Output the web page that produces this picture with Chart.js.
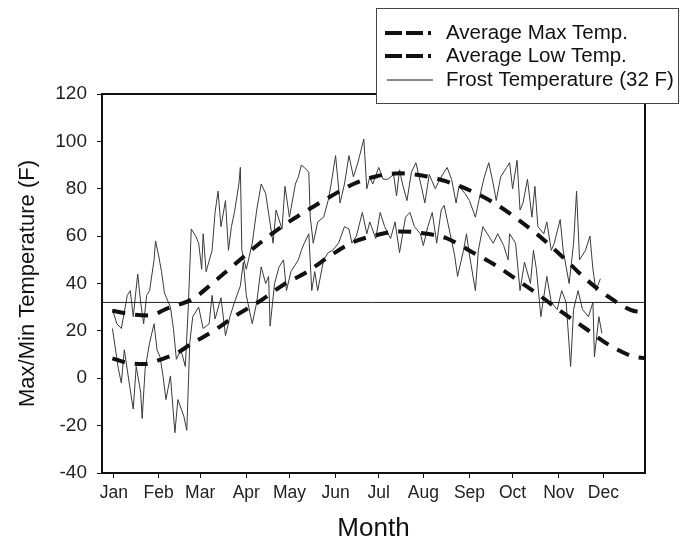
<!DOCTYPE html>
<html>
<head>
<meta charset="utf-8">
<script src="https://cdn.jsdelivr.net/npm/chart.js@4.4.1/dist/chart.umd.min.js"></script>
<style>
  html, body { margin: 0; padding: 0; background: #fff; }
  #wrap { width: 681px; height: 552px; }
</style>
</head>
<body>
<div id="wrap"><canvas id="tempChart" width="681" height="552"></canvas></div>
<script>
// Month ticks (x in the same day units as the data below)
const monthLabels = ['Jan', 'Feb', 'Mar', 'Apr', 'May', 'Jun', 'Jul', 'Aug', 'Sep', 'Oct', 'Nov', 'Dec'];
const monthTickDays = [8, 38, 66, 97, 126, 157, 186, 216, 247, 276, 307, 337];

const yTicks = [-40, -20, 0, 20, 40, 60, 80, 100, 120];
const frostTemp = 32;

// Smoothed averages
const avgMaxDays = [7, 20, 32, 44, 61, 75, 90, 106, 122, 137, 153, 169, 184, 200, 216, 231, 250, 264, 278, 294, 310, 325, 341, 357, 365];
const avgMaxTemps = [28.5, 27, 26.5, 29.5, 33.5, 40.5, 48.5, 57, 64.5, 70.5, 76.5, 82, 85.2, 86.5, 85.5, 83.2, 78.5, 73.8, 67.8, 60, 51, 42, 34.2, 28.5, 28];

const avgLowDays = [7, 17, 28, 40, 50, 60, 75, 90, 106, 122, 138, 154, 169, 185, 200, 216, 232, 248, 265, 279, 294, 309, 325, 341, 357, 365];
const avgLowTemps = [8.4, 6.5, 6, 8, 10.5, 14.5, 20, 26.5, 32.5, 39.5, 45, 52, 57.5, 60.5, 62, 61.2, 59, 53.5, 47.5, 41.5, 35, 28, 21, 14, 9.2, 8.4];

const dailyHighDays = [7, 10, 13, 17, 19, 21, 24, 26, 28, 30, 32, 35, 36, 38, 40, 42, 46, 48, 50, 53, 56, 58, 60, 63, 65, 67, 68, 70, 74, 76, 78, 80, 83, 85, 87, 89, 92, 93, 94, 97, 101, 104, 107, 110, 115, 117, 121, 123, 126, 130, 132, 134, 136, 139, 140, 142, 145, 149, 152, 154, 157, 160, 163, 166, 169, 172, 176, 178, 180, 182, 186, 189, 192, 196, 198, 200, 202, 205, 208, 211, 215, 217, 220, 224, 227, 232, 235, 238, 240, 244, 247, 251, 254, 257, 260, 263, 265, 268, 272, 274, 276, 279, 281, 283, 286, 289, 291, 293, 297, 299, 302, 304, 308, 310, 312, 314, 317, 319, 321, 325, 328, 330, 332, 335];
const dailyHighTemps = [29, 23, 21, 35, 37, 26, 44, 32, 23, 35, 37, 50, 58, 52, 45, 36, 30, 21, 8, 12, 5, 30, 63, 60, 57, 46, 61, 45, 54, 70, 79, 64, 75, 54, 64, 70, 82, 89, 54, 46, 57, 71, 82, 78, 57, 71, 63, 81, 68, 82, 85, 90, 89, 87, 68, 57, 66, 68, 75, 82, 94, 74, 82, 94, 85, 91, 101, 80, 85, 82, 89, 84, 84, 86, 77, 88, 82, 75, 87, 91, 80, 74, 86, 80, 84, 89, 84, 74, 81, 78, 75, 68, 77, 85, 91, 82, 75, 85, 89, 91, 80, 92, 71, 74, 84, 68, 81, 64, 61, 66, 54, 57, 67, 54, 47, 40, 57, 79, 50, 54, 60, 46, 37, 42];

const dailyLowDays = [7, 11, 13, 15, 19, 21, 23, 26, 27, 29, 32, 35, 37, 39, 41, 43, 46, 49, 51, 55, 57, 59, 61, 65, 68, 72, 74, 76, 80, 83, 86, 89, 93, 95, 97, 101, 104, 107, 110, 112, 113, 116, 119, 122, 124, 127, 132, 134, 136, 139, 141, 143, 145, 149, 152, 155, 159, 163, 166, 168, 171, 175, 178, 180, 184, 187, 190, 194, 197, 200, 204, 207, 210, 214, 216, 219, 222, 225, 228, 230, 234, 237, 239, 243, 245, 247, 251, 253, 256, 260, 263, 266, 270, 273, 274, 278, 281, 284, 288, 290, 292, 295, 299, 302, 306, 309, 312, 315, 317, 320, 323, 327, 330, 331, 334, 336];
const dailyLowTemps = [21, 4, -2, 12, -5, -13, 5, -6, -17, 4, 15, 23, 12, 9, 1, -9, 1, -23, -9, -16, -22, 15, 26, 30, 21, 23, 35, 25, 34, 18, 26, 32, 39, 49, 35, 23, 32, 47, 40, 43, 22, 40, 47, 50, 37, 45, 50, 54, 57, 61, 37, 45, 37, 50, 53, 54, 57, 64, 63, 57, 60, 70, 61, 66, 59, 70, 64, 59, 66, 53, 68, 70, 64, 61, 56, 64, 70, 57, 71, 73, 61, 52, 43, 54, 61, 52, 37, 54, 64, 60, 57, 61, 56, 50, 61, 57, 37, 49, 40, 54, 46, 26, 43, 32, 29, 37, 32, 5, 29, 37, 29, 26, 32, 9, 26, 19];

const FONT = '"Liberation Sans", Arial, sans-serif';

function toPoints(xs, ys) {
    return xs.map((x, i) => ({ x: x, y: ys[i] }));
}

// Frame around the plot area plus the boxed legend in the top right
const framePlugin = {
    id: 'frame',
    afterDraw(chart) {
        const { ctx, chartArea } = chart;
        ctx.save();
        ctx.strokeStyle = '#111';
        ctx.lineWidth = 2;
        ctx.strokeRect(chartArea.left, chartArea.top, chartArea.right - chartArea.left, chartArea.bottom - chartArea.top);

        // legend box
        ctx.fillStyle = '#fff';
        ctx.fillRect(376, 8, 302, 95);
        ctx.strokeStyle = '#444';
        ctx.lineWidth = 1;
        ctx.strokeRect(376.5, 8.5, 302, 95);

        const rows = [
            { label: 'Average Max Temp.', y: 33, dashed: true },
            { label: 'Average Low Temp.', y: 56, dashed: true },
            { label: 'Frost Temperature (32 F)', y: 80, dashed: false }
        ];
        rows.forEach(row => {
            ctx.beginPath();
            if (row.dashed) {
                ctx.lineWidth = 4;
                ctx.setLineDash([17, 4, 17, 5, 3, 60]);
                ctx.moveTo(385, row.y);
                ctx.lineTo(437, row.y);
            } else {
                ctx.lineWidth = 1;
                ctx.setLineDash([]);
                ctx.moveTo(387, row.y);
                ctx.lineTo(433, row.y);
            }
            ctx.strokeStyle = '#111';
            ctx.stroke();
            ctx.setLineDash([]);
            ctx.fillStyle = '#111';
            ctx.font = '20.5px ' + FONT;
            ctx.textBaseline = 'middle';
            ctx.fillText(row.label, 446, row.y);
        });
        ctx.restore();
    }
};

const ctx = document.getElementById('tempChart').getContext('2d');

new Chart(ctx, {
    type: 'line',
    data: {
        datasets: [
            {
                label: 'Average Max Temp.',
                data: toPoints(avgMaxDays, avgMaxTemps),
                borderColor: '#111',
                borderWidth: 4,
                borderDash: [13, 10],
                cubicInterpolationMode: 'monotone',
                pointRadius: 0,
                fill: false
            },
            {
                label: 'Average Low Temp.',
                data: toPoints(avgLowDays, avgLowTemps),
                borderColor: '#111',
                borderWidth: 4,
                borderDash: [13, 10],
                cubicInterpolationMode: 'monotone',
                pointRadius: 0,
                fill: false
            },
            {
                label: 'Frost Temperature (32 F)',
                data: [{ x: 0, y: frostTemp }, { x: 365, y: frostTemp }],
                borderColor: '#222',
                borderWidth: 1,
                pointRadius: 0,
                fill: false
            },
            {
                label: 'Daily High',
                data: toPoints(dailyHighDays, dailyHighTemps),
                borderColor: '#3a3a3a',
                borderWidth: 1,
                tension: 0,
                pointRadius: 0,
                fill: false
            },
            {
                label: 'Daily Low',
                data: toPoints(dailyLowDays, dailyLowTemps),
                borderColor: '#3a3a3a',
                borderWidth: 1,
                tension: 0,
                pointRadius: 0,
                fill: false
            }
        ]
    },
    options: {
        responsive: false,
        animation: false,
        layout: {
            padding: { left: 0, right: 36, top: 94, bottom: 0 }
        },
        plugins: {
            legend: { display: false },
            tooltip: { enabled: false }
        },
        scales: {
            x: {
                type: 'linear',
                min: 0,
                max: 365,
                afterBuildTicks: scale => {
                    scale.ticks = monthTickDays.map(v => ({ value: v }));
                },
                afterFit: scale => {
                    scale.height = 79;
                },
                grid: {
                    drawOnChartArea: false,
                    drawTicks: true,
                    tickLength: 5,
                    tickColor: '#111'
                },
                border: { color: '#111', width: 2 },
                ticks: {
                    autoSkip: false,
                    maxRotation: 0,
                    padding: 5,
                    color: '#222',
                    font: { family: FONT, size: 17.5 },
                    callback: (value, index) => monthLabels[index]
                },
                title: {
                    display: true,
                    text: 'Month',
                    color: '#111',
                    font: { family: FONT, size: 26 },
                    padding: { top: 0, bottom: 8 }
                }
            },
            y: {
                min: -40,
                max: 120,
                afterBuildTicks: scale => {
                    scale.ticks = yTicks.map(v => ({ value: v }));
                },
                afterFit: scale => {
                    scale.width = 102;
                },
                grid: {
                    drawOnChartArea: false,
                    drawTicks: true,
                    tickLength: 5,
                    tickColor: '#111'
                },
                border: { color: '#111', width: 2 },
                ticks: {
                    padding: 10,
                    color: '#222',
                    font: { family: FONT, size: 19 }
                },
                title: {
                    display: true,
                    text: 'Max/Min Temperature (F)',
                    color: '#111',
                    font: { family: FONT, size: 22 },
                    padding: { top: 15, bottom: 0 }
                }
            }
        }
    },
    plugins: [framePlugin]
});
</script>
</body>
</html>
